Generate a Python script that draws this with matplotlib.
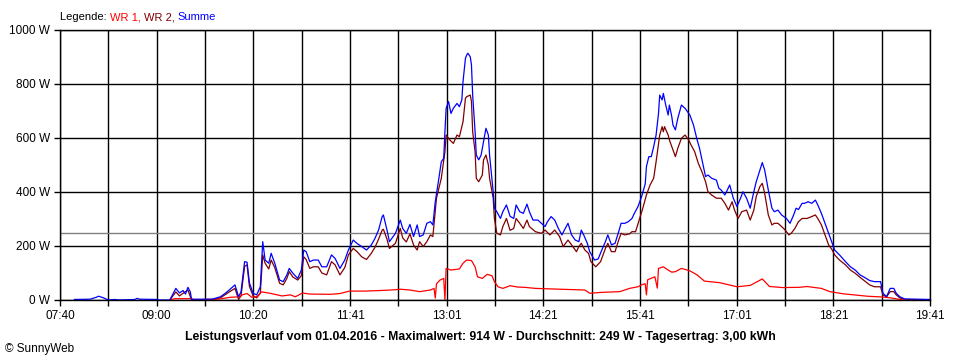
import matplotlib
matplotlib.use('Agg')
import matplotlib.pyplot as plt
import numpy as np

plt.rcParams['font.family'] = ['Liberation Sans', 'DejaVu Sans']

# Tick labels of the time axis and the power axis
x_labels = ['07:40', '09:00', '10:20', '11:41', '13:01', '14:21', '15:41', '17:01', '18:21', '19:41']
y_ticks = [0, 200, 400, 600, 800, 1000]
average_w = 249

# WR 1 (red)
wr1_times = ['09:11', '09:15', '09:29', '09:31', '09:40', '09:53', '10:01', '10:09', '10:11', '10:15',
             '10:19', '10:23', '10:27', '10:34', '10:44', '10:51', '10:55', '11:01', '11:07', '11:24',
             '11:32', '11:40', '11:53', '12:05', '12:18', '12:22', '12:30', '12:38', '12:47', '12:50',
             '12:51', '12:52', '12:55', '12:58', '12:59', '13:00', '13:04', '13:11', '13:14', '13:17',
             '13:21', '13:24', '13:26', '13:30', '13:34', '13:38', '13:40', '13:43', '13:47', '13:53',
             '13:59', '14:05', '14:14', '14:34', '14:55', '14:59', '15:08', '15:24', '15:32', '15:39',
             '15:43', '15:45', '15:46', '15:47', '15:53', '15:55', '15:56', '16:00', '16:04', '16:07',
             '16:10', '16:15', '16:22', '16:28', '16:34', '16:47', '17:01', '17:12', '17:22', '17:28',
             '17:39', '17:53', '17:59', '18:11', '18:18', '18:29', '18:49', '19:02', '19:08', '19:19',
             '19:41']
wr1_watts = [0, 5, 5, 0, 2, 4, 10, 12, 19, 24,
             10, 12, 30, 25, 15, 19, 12, 26, 22, 21,
             24, 33, 33, 35, 38, 40, 37, 31, 37, 43,
             7, 60, 74, 80, 0, 117, 111, 115, 136, 148,
             146, 123, 86, 80, 95, 90, 68, 49, 43, 53,
             48, 47, 43, 40, 37, 25, 28, 31, 43, 49,
             58, 60, 19, 75, 86, 44, 117, 123, 111, 103,
             105, 117, 108, 93, 70, 64, 49, 54, 78, 50,
             46, 47, 50, 43, 31, 23, 14, 11, 8, 0,
             0]

# WR 2 (dark red)
wr2_times = ['09:11', '09:16', '09:19', '09:22', '09:26', '09:29', '09:46', '09:53', '09:57', '10:01',
             '10:05', '10:08', '10:10', '10:13', '10:15', '10:17', '10:20', '10:23', '10:26', '10:28',
             '10:30', '10:33', '10:35', '10:38', '10:42', '10:45', '10:48', '10:50', '10:53', '10:57',
             '11:00', '11:02', '11:04', '11:07', '11:10', '11:14', '11:17', '11:21', '11:25', '11:28',
             '11:32', '11:36', '11:39', '11:43', '11:46', '11:50', '11:54', '11:58', '12:01', '12:04',
             '12:07', '12:08', '12:11', '12:13', '12:18', '12:22', '12:24', '12:27', '12:30', '12:33',
             '12:36', '12:38', '12:41', '12:44', '12:47', '12:49', '12:52', '12:56', '12:59', '13:00',
             '13:03', '13:06', '13:09', '13:11', '13:14', '13:16', '13:17', '13:20', '13:21', '13:22',
             '13:24', '13:25', '13:27', '13:30', '13:31', '13:33', '13:35', '13:36', '13:39', '13:40',
             '13:42', '13:45', '13:47', '13:50', '13:53', '13:56', '13:58', '14:01', '14:04', '14:07',
             '14:09', '14:14', '14:19', '14:22', '14:26', '14:30', '14:34', '14:37', '14:41', '14:44',
             '14:48', '14:50', '14:52', '14:55', '14:58', '15:00', '15:04', '15:08', '15:12', '15:14',
             '15:17', '15:20', '15:23', '15:25', '15:28', '15:32', '15:34', '15:37', '15:40', '15:43',
             '15:46', '15:49', '15:52', '15:54', '15:57', '15:59', '16:00', '16:01', '16:04', '16:05',
             '16:08', '16:10', '16:12', '16:15', '16:18', '16:21', '16:23', '16:26', '16:29', '16:32',
             '16:35', '16:37', '16:40', '16:44', '16:48', '16:51', '16:54', '16:57', '16:59', '17:02',
             '17:05', '17:09', '17:12', '17:15', '17:17', '17:20', '17:22', '17:24', '17:27', '17:30',
             '17:32', '17:35', '17:38', '17:41', '17:44', '17:46', '17:49', '17:52', '17:55', '17:59',
             '18:03', '18:06', '18:08', '18:11', '18:14', '18:17', '18:20', '18:22', '18:26', '18:31',
             '18:35', '18:39', '18:43', '18:47', '18:51', '18:55', '19:00', '19:02', '19:05', '19:08',
             '19:11', '19:13', '19:16', '19:20', '19:41']
wr2_watts = [0, 30, 15, 25, 37, 0, 0, 8, 20, 32,
             43, 2, 15, 125, 130, 50, 15, 8, 25, 167,
             136, 115, 148, 120, 62, 56, 80, 105, 85, 74,
             90, 160, 150, 117, 123, 123, 100, 93, 142, 130,
             93, 120, 167, 191, 180, 160, 150, 173, 195, 225,
             259, 262, 225, 191, 210, 265, 230, 215, 245, 204,
             185, 216, 198, 216, 241, 235, 377, 451, 549, 611,
             593, 580, 611, 605, 660, 747, 753, 759, 735, 623,
             549, 451, 438, 463, 519, 537, 500, 451, 377, 302,
             247, 241, 272, 302, 258, 265, 302, 284, 265, 296,
             272, 253, 247, 259, 241, 259, 235, 198, 222, 204,
             179, 198, 210, 185, 173, 142, 123, 142, 191, 210,
             179, 179, 222, 247, 241, 245, 253, 253, 296, 340,
             389, 426, 451, 512, 611, 642, 623, 642, 611, 593,
             556, 531, 562, 599, 611, 593, 574, 549, 506, 475,
             438, 401, 389, 377, 377, 358, 333, 364, 333, 302,
             327, 333, 296, 333, 383, 420, 432, 395, 315, 278,
             284, 284, 272, 259, 241, 247, 265, 290, 302, 302,
             309, 315, 302, 278, 241, 204, 185, 167, 148, 130,
             111, 99, 84, 70, 56, 49, 49, 19, 12, 31,
             31, 19, 8, 2, 0]

# Summe (blue)
sum_times = ['07:52', '08:05', '08:10', '08:12', '08:16', '08:19', '08:21', '08:25', '08:29', '08:42',
             '08:44', '08:46', '09:00', '09:02', '09:11', '09:16', '09:19', '09:22', '09:24', '09:26',
             '09:28', '09:29', '09:46', '09:53', '09:57', '10:01', '10:05', '10:08', '10:10', '10:13',
             '10:15', '10:17', '10:20', '10:23', '10:26', '10:28', '10:30', '10:33', '10:35', '10:38',
             '10:42', '10:45', '10:48', '10:50', '10:53', '10:57', '11:00', '11:02', '11:04', '11:07',
             '11:10', '11:14', '11:17', '11:21', '11:25', '11:28', '11:32', '11:36', '11:39', '11:43',
             '11:46', '11:50', '11:54', '11:58', '12:01', '12:04', '12:07', '12:08', '12:11', '12:13',
             '12:18', '12:22', '12:24', '12:27', '12:30', '12:33', '12:36', '12:38', '12:41', '12:44',
             '12:47', '12:49', '12:51', '12:54', '12:56', '12:58', '12:59', '13:00', '13:02', '13:04',
             '13:06', '13:09', '13:11', '13:13', '13:14', '13:16', '13:17', '13:18', '13:20', '13:21',
             '13:22', '13:24', '13:25', '13:27', '13:29', '13:31', '13:33', '13:35', '13:36', '13:39',
             '13:40', '13:42', '13:45', '13:47', '13:50', '13:53', '13:56', '13:58', '14:01', '14:04',
             '14:07', '14:09', '14:12', '14:16', '14:19', '14:22', '14:24', '14:27', '14:30', '14:33',
             '14:36', '14:38', '14:41', '14:44', '14:47', '14:50', '14:52', '14:54', '14:57', '14:59',
             '15:03', '15:06', '15:09', '15:12', '15:14', '15:17', '15:20', '15:23', '15:25', '15:28',
             '15:31', '15:34', '15:36', '15:39', '15:42', '15:45', '15:46', '15:48', '15:50', '15:52',
             '15:54', '15:56', '15:57', '15:59', '16:00', '16:02', '16:04', '16:05', '16:07', '16:08',
             '16:10', '16:12', '16:15', '16:18', '16:22', '16:25', '16:28', '16:30', '16:33', '16:35',
             '16:37', '16:40', '16:44', '16:46', '16:48', '16:51', '16:53', '16:55', '16:58', '17:01',
             '17:04', '17:06', '17:09', '17:12', '17:15', '17:17', '17:20', '17:22', '17:24', '17:27',
             '17:30', '17:32', '17:35', '17:38', '17:42', '17:45', '17:48', '17:50', '17:52', '17:55',
             '17:57', '18:00', '18:03', '18:06', '18:08', '18:11', '18:14', '18:17', '18:20', '18:22',
             '18:26', '18:31', '18:35', '18:39', '18:43', '18:47', '18:51', '18:55', '19:00', '19:01',
             '19:02', '19:05', '19:08', '19:11', '19:13', '19:16', '19:20', '19:41']
sum_watts = [2, 3, 10, 14, 8, 2, 0, 2, 0, 2,
             6, 3, 2, 0, 0, 43, 26, 35, 22, 47,
             30, 3, 3, 12, 25, 40, 56, 12, 30, 142,
             140, 63, 25, 19, 49, 216, 148, 136, 173, 136,
             74, 68, 93, 117, 99, 80, 111, 185, 179, 142,
             148, 148, 123, 123, 167, 154, 117, 148, 185, 222,
             210, 198, 185, 204, 228, 259, 309, 315, 259, 216,
             247, 296, 265, 247, 280, 235, 278, 235, 241, 284,
             290, 278, 364, 451, 512, 525, 623, 710, 735, 691,
             710, 728, 716, 741, 809, 895, 907, 914, 901, 870,
             759, 623, 537, 519, 537, 586, 636, 611, 537, 401,
             340, 327, 302, 327, 352, 310, 302, 352, 327, 321,
             355, 327, 296, 296, 284, 272, 290, 309, 296, 265,
             241, 259, 284, 241, 222, 216, 259, 241, 210, 179,
             148, 152, 185, 216, 241, 204, 210, 253, 284, 284,
             290, 302, 321, 346, 383, 430, 494, 531, 531, 568,
             611, 691, 759, 741, 765, 722, 685, 722, 679, 648,
             630, 673, 722, 710, 685, 648, 593, 562, 500, 457,
             463, 451, 444, 414, 407, 389, 407, 426, 377, 346,
             377, 401, 377, 340, 401, 438, 481, 509, 481, 407,
             340, 327, 333, 315, 302, 284, 315, 340, 335, 358,
             358, 364, 358, 370, 352, 321, 284, 247, 210, 185,
             167, 142, 123, 111, 93, 83, 72, 68, 68, 49,
             25, 12, 43, 43, 25, 12, 4, 2]


def to_minutes(times):
    return np.array([int(t[:2]) * 60 + int(t[3:]) for t in times])


x_start = to_minutes(['07:40'])[0]
x_end = to_minutes(['19:41'])[0]

fig = plt.figure(figsize=(9.6, 3.6), dpi=100)
ax = fig.add_axes([60 / 960, 60 / 360, 870 / 960, 270 / 360])

ax.plot(to_minutes(wr2_times), wr2_watts, color='#800000', linewidth=0.9)
ax.plot(to_minutes(wr1_times), wr1_watts, color='#ff0000', linewidth=0.9)
ax.plot(to_minutes(sum_times), sum_watts, color='#0000ff', linewidth=0.9)
ax.axhline(average_w, color='#808080', linewidth=1.0, zorder=1)

ax.set_xlim(x_start, x_end)
ax.set_ylim(0, 1000)
ax.set_xticks(np.linspace(x_start, x_end, len(x_labels)))
ax.set_xticklabels(x_labels)
ax.set_xticks(np.linspace(x_start, x_end, 2 * len(x_labels) - 1), minor=True)
ax.set_yticks(y_ticks)
ax.set_yticklabels(['%d W' % v for v in y_ticks])
ax.set_axisbelow(True)
ax.grid(which='both', color='black', linewidth=1.0)
ax.tick_params(which='both', direction='out', length=4, width=1, color='black',
               labelsize=8.5, pad=3)
for s in ax.spines.values():
    s.set_linewidth(1.0)

# legend line on top, one coloured word after the other
leg_y = 1 - 17 / 360
t = fig.text(60 / 960, leg_y, 'Legende: ', fontsize=8, va='center', ha='left')
fig.canvas.draw()
r = fig.canvas.get_renderer()
x0 = t.get_window_extent(r).x1
parts = [('WR 1, ', '#ff0000'), ('WR 2, ', '#800000'), ('Summe', '#0000ff')]
for txt, col in parts:
    tt = fig.text(x0 / 960, leg_y, txt, fontsize=8, va='center', ha='left', color=col)
    x0 = tt.get_window_extent(r).x1

fig.text(480 / 960, 1 - 337 / 360,
         'Leistungsverlauf vom 01.04.2016 - Maximalwert: 914 W - Durchschnitt: 249 W - Tagesertrag: 3,00 kWh',
         fontsize=8.8, fontweight='bold', ha='center', va='center')
fig.text(5 / 960, 1 - 349 / 360, '\u00a9 SunnyWeb', fontsize=8.5, ha='left', va='center')

fig.savefig('out.png', dpi=100)
